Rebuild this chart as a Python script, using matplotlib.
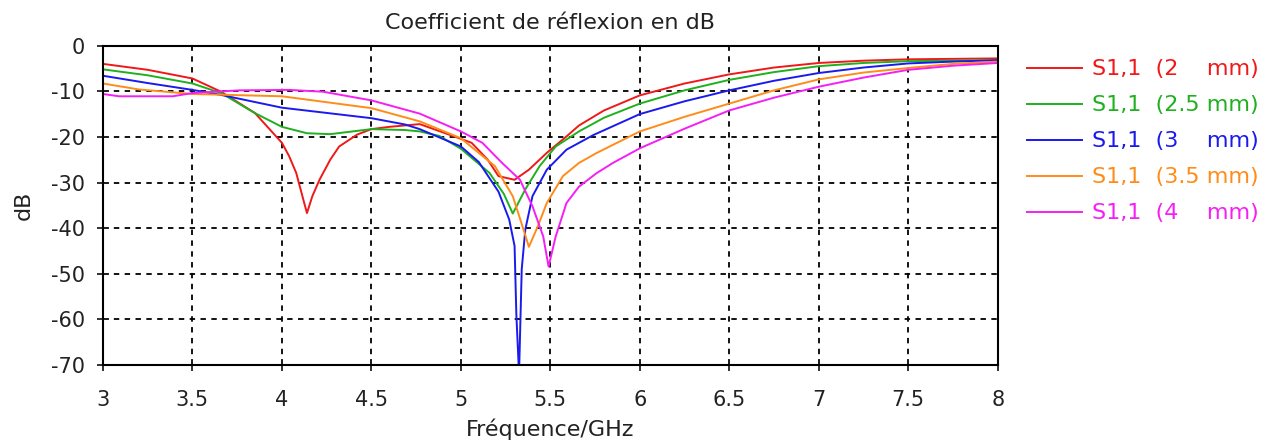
import matplotlib
matplotlib.use("Agg")
import matplotlib.pyplot as plt

plt.rcParams["axes.unicode_minus"] = False

title = "Coefficient de réflexion en dB"
xlabel = "Fréquence/GHz"
ylabel = "dB"
labels = ["S1,1  (2    mm)", "S1,1  (2.5 mm)", "S1,1  (3    mm)", "S1,1  (3.5 mm)", "S1,1  (4    mm)"]
colors = ["#f01818", "#1fb01f", "#1a1aee", "#ff8c1a", "#f51ff5"]
xticks = [3, 3.5, 4, 4.5, 5, 5.5, 6, 6.5, 7, 7.5, 8]
xtick_labels = ["3", "3.5", "4", "4.5", "5", "5.5", "6", "6.5", "7", "7.5", "8"]
yticks = [-70, -60, -50, -40, -30, -20, -10, 0]

f_2mm = [3.0, 3.25, 3.5, 3.66, 3.85, 4.0, 4.04, 4.08, 4.12, 4.14, 4.17, 4.21, 4.27, 4.32, 4.42, 4.5, 4.6, 4.77,
         4.97, 5.06, 5.15, 5.21, 5.30, 5.38, 5.48, 5.59, 5.66, 5.8, 6.0, 6.25, 6.5, 6.75, 7.0, 7.25, 7.5, 7.75, 8.0]
db_2mm = [-4.0, -5.3, -7.2, -10.1, -14.8, -21.3, -24.2, -27.9, -33.8, -36.7, -33.0, -29.4, -25.0, -22.1, -19.5, -18.3, -17.8, -17.2,
          -20.0, -21.3, -25.0, -28.6, -29.4, -27.2, -23.5, -19.9, -17.5, -14.2, -10.9, -8.3, -6.3, -4.8, -3.8, -3.3, -3.0, -2.9, -2.8]

f_25mm = [3.0, 3.25, 3.5, 3.66, 3.85, 4.0, 4.14, 4.27, 4.5, 4.69, 4.77, 4.88, 5.0, 5.16, 5.24, 5.29, 5.36, 5.44, 5.53,
          5.66, 5.8, 6.0, 6.25, 6.5, 6.75, 7.0, 7.25, 7.5, 7.75, 8.0]
db_25mm = [-5.2, -6.5, -8.3, -10.4, -14.8, -17.8, -19.2, -19.4, -18.3, -18.5, -18.8, -19.8, -22.6, -27.9, -32.5, -36.8, -31.5, -26.4, -22.1,
           -18.8, -15.8, -12.7, -9.8, -7.5, -5.8, -4.5, -3.8, -3.4, -3.3, -3.2]

f_3mm = [3.0, 3.25, 3.5, 3.66, 4.0, 4.5, 4.69, 4.77, 5.0, 5.1, 5.21, 5.27, 5.30, 5.31, 5.325, 5.34, 5.36, 5.40, 5.48,
         5.59, 5.74, 6.0, 6.25, 6.5, 6.75, 7.0, 7.25, 7.5, 7.75, 8.0]
db_3mm = [-6.6, -8.2, -9.7, -10.8, -13.6, -15.9, -17.3, -18.3, -22.1, -25.5, -32.0, -38.1, -43.9, -59.0, -72.0, -49.0, -40.3, -33.0, -27.2,
          -22.8, -19.6, -15.0, -12.2, -9.8, -7.7, -6.0, -4.8, -3.9, -3.5, -3.2]

f_35mm = [3.0, 3.2, 3.5, 4.0, 4.5, 4.77, 5.0, 5.19, 5.29, 5.35, 5.38, 5.43, 5.48, 5.57, 5.66, 5.76, 6.0, 6.25, 6.5,
          6.75, 7.0, 7.25, 7.5, 7.75, 8.0]
db_35mm = [-8.3, -9.6, -10.6, -11.1, -13.7, -16.6, -20.3, -26.4, -33.0, -40.3, -44.1, -39.6, -34.5, -28.6, -25.7, -23.5, -18.8, -15.6, -12.7,
           -9.8, -7.4, -5.9, -4.9, -4.0, -3.5]

f_4mm = [3.0, 3.09, 3.39, 3.5, 3.76, 4.04, 4.23, 4.5, 4.77, 5.0, 5.12, 5.23, 5.33, 5.40, 5.46, 5.49, 5.53, 5.59, 5.66,
         5.76, 5.85, 6.0, 6.25, 6.5, 6.75, 7.0, 7.25, 7.5, 7.75, 8.0]
db_4mm = [-10.6, -11.1, -11.1, -10.4, -9.8, -9.7, -10.1, -12.0, -14.9, -18.8, -21.3, -25.7, -29.4, -35.2, -41.8, -48.4, -41.8, -34.5, -30.9,
          -27.9, -25.7, -22.5, -18.2, -14.2, -11.4, -9.0, -7.0, -5.3, -4.4, -3.8]

freqs = [f_2mm, f_25mm, f_3mm, f_35mm, f_4mm]
dbs = [db_2mm, db_25mm, db_3mm, db_35mm, db_4mm]

fig = plt.figure(figsize=(12.82, 4.43), dpi=100)
ax = fig.add_axes([0.0803, 0.176, 0.698, 0.721])

handles = []
for f, d, c, lab in zip(freqs, dbs, colors, labels):
    h, = ax.plot(f, d, color=c, lw=1.4, label=lab)
    handles.append(h)

ax.set_xlim(3, 8)
ax.set_ylim(-70, 0)
ax.set_xticks(xticks)
ax.set_xticklabels(xtick_labels)
ax.set_yticks(yticks)
ax.grid(True, color="black", linestyle=(0, (3, 3)), linewidth=1.3)
for s in ax.spines.values():
    s.set_linewidth(1.5)
ax.tick_params(direction="inout", length=8, width=1.3, labelsize=15, colors="#222222")
ax.tick_params(axis="x", pad=14)
ax.tick_params(axis="y", pad=9)
ax.set_title(title, fontsize=16, color="#222222", pad=12)
ax.set_xlabel(xlabel, fontsize=16, color="#222222", labelpad=6)
ax.set_ylabel(ylabel, fontsize=16, color="#222222", labelpad=12)

fig.legend(handles=handles, loc="upper left", bbox_to_anchor=(0.801, 0.866), frameon=False, fontsize=16,
           labelcolor="linecolor", handlelength=2.5, handletextpad=0.45, labelspacing=0.72,
           borderpad=0, borderaxespad=0)

fig.savefig("out.png", dpi=100)
